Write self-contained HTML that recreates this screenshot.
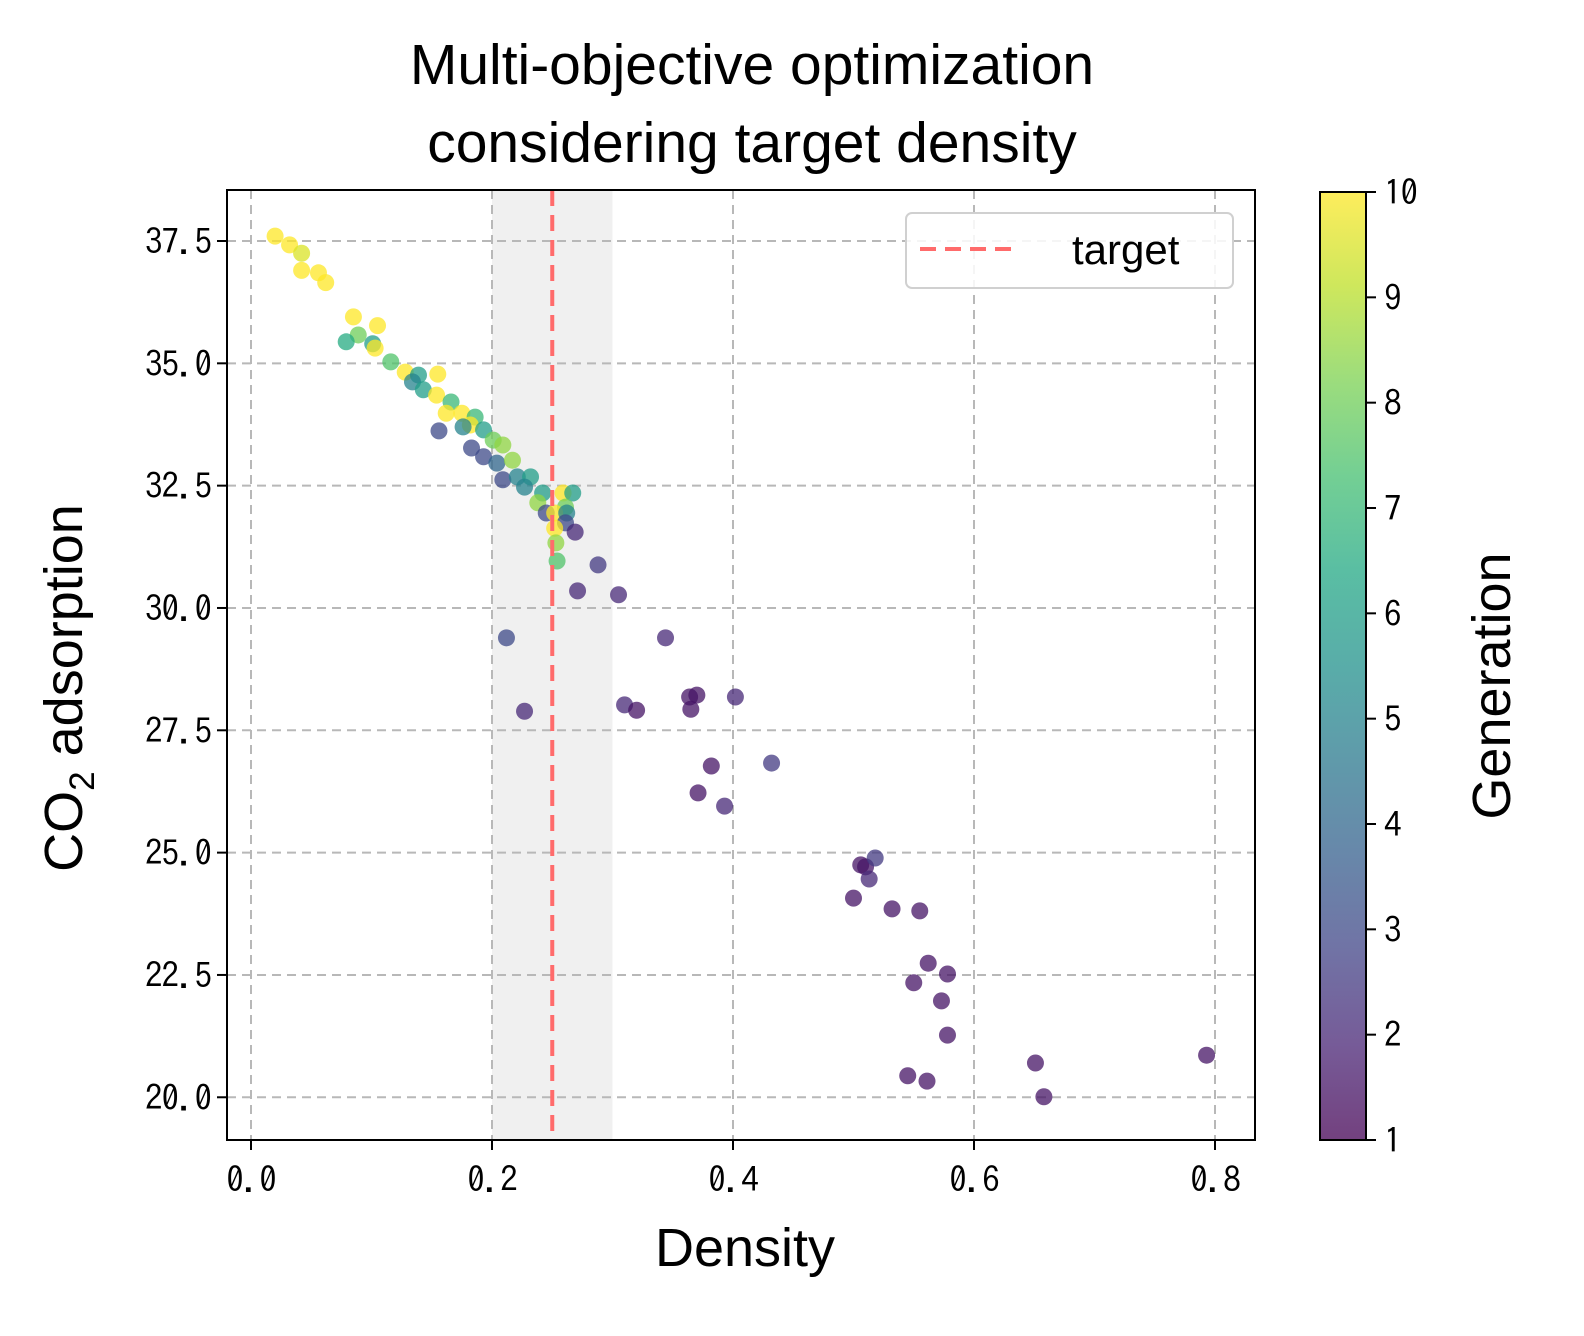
<!DOCTYPE html>
<html><head><meta charset="utf-8"><style>
html,body{margin:0;padding:0;background:#fff;overflow:hidden;width:1584px;height:1336px}
svg{display:block}
.tk{font-family:"IPAGothic","Liberation Sans",sans-serif;font-size:35px;fill:#000;letter-spacing:-1px}
.lb{font-family:"Liberation Sans",sans-serif;fill:#000}
</style></head><body>
<svg id="chart" width="1584" height="1336" xmlns="http://www.w3.org/2000/svg">
<defs>
<linearGradient id="vir" x1="0" y1="1" x2="0" y2="0"></linearGradient>
</defs>
<rect width="1584" height="1336" fill="#fff"/>
<text class="lb" x="752" y="84" font-size="57" text-anchor="middle">Multi-objective optimization</text>
<text class="lb" x="752" y="162" font-size="57" text-anchor="middle">considering target density</text>
<g id="plot"></g>
<g id="cbar"></g>
</svg>
<script>
const densities=[0.020,0.032,0.042,0.042,0.056,0.062,0.085,0.105,0.089,0.079,0.101,0.103,0.116,0.128,0.139,0.134,0.143,0.155,0.154,0.166,0.162,0.175,0.186,0.182,0.156,0.176,0.193,0.183,0.193,0.201,0.209,0.204,0.217,0.209,0.221,0.232,0.227,0.242,0.238,0.245,0.259,0.267,0.261,0.252,0.262,0.261,0.269,0.252,0.253,0.254,0.288,0.271,0.305,0.212,0.344,0.227,0.310,0.320,0.364,0.370,0.365,0.402,0.382,0.432,0.371,0.393,0.506,0.510,0.518,0.513,0.500,0.532,0.555,0.562,0.578,0.550,0.573,0.578,0.651,0.793,0.545,0.561,0.658];
const adsorption=[37.6,37.42,37.25,36.9,36.85,36.65,35.95,35.77,35.58,35.44,35.4,35.31,35.03,34.82,34.76,34.62,34.46,34.78,34.35,34.21,33.98,33.98,33.9,33.74,33.62,33.7,33.64,33.27,33.09,33.43,33.33,32.96,33.02,32.62,32.68,32.68,32.47,32.35,32.15,31.94,32.35,32.35,32.06,31.94,31.94,31.74,31.55,31.63,31.33,30.96,30.88,30.35,30.27,29.39,29.39,27.89,28.02,27.91,28.18,28.22,27.93,28.18,26.77,26.83,26.22,25.95,24.75,24.71,24.89,24.46,24.07,23.85,23.81,22.74,22.52,22.34,21.97,21.27,20.70,20.86,20.44,20.33,20.01];
const generations=[10,10,9.5,10,10,10,10,10,8,6.5,6,10,7.5,10,6,5,6,10,10,7,10,10,7,10,3,5,6,3,3,8,8.5,4,8.5,3,5,6,5,6,8.5,3,10,6,8,10,5,3,2,10,8.5,7.5,2.5,2,2,3,2,2,2,1.5,1.5,1.5,1.5,2,1.5,2.5,1.5,2,1.5,1.5,2.5,2,1.5,1.5,1.5,1.5,1.5,1.5,1.5,1.5,1.5,1.5,1.5,1.5,1.5];
const xTicks=[0.0,0.2,0.4,0.6,0.8];
const xTickLabels=["0.0","0.2","0.4","0.6","0.8"];
const yTicks=[20,22.5,25,27.5,30,32.5,35,37.5];
const yTickLabels=["20.0","22.5","25.0","27.5","30.0","32.5","35.0","37.5"];
const cTicks=[1,2,3,4,5,6,7,8,9,10];
const targetDensity=0.25, bandLo=0.2, bandHi=0.3;

const NS="http://www.w3.org/2000/svg";
const L=227,R=1255,T=190,B=1140;
const X=v=>251+(v-0)*1205;
const Y=v=>241+(37.5-v)*48.93;
const vir=["#440154","#482475","#414487","#355f8d","#2a788e","#21918c","#22a884","#44bf70","#7ad151","#bddf26","#fde725"];
function hex(h){return [1,3,5].map(i=>parseInt(h.substr(i,2),16));}
function color(g){let t=(g-1)/9;t=Math.max(0,Math.min(1,t));const f=t*10,i=Math.min(9,Math.floor(f)),r=f-i;const a=hex(vir[i]),b=hex(vir[i+1]);return "rgb("+a.map((v,k)=>Math.round(v+(b[k]-v)*r)).join(",")+")";}
function mk(tag,at,par){const e=document.createElementNS(NS,tag);for(const k in at)e.setAttribute(k,at[k]);par.appendChild(e);return e;}
const grad=document.getElementById('vir');
vir.forEach((c,i)=>mk('stop',{offset:(i*10)+'%','stop-color':c},grad));
const p=document.getElementById('plot');
let e;
e=mk('rect',{x:X(bandLo),y:T,width:X(bandHi)-X(bandLo),height:B-T,fill:'#f0f0f0'},p);


xTicks.forEach((v,i)=>{
 e=mk('line',{x1:X(v),x2:X(v),y1:T,y2:B,stroke:'#b8b8b8','stroke-width':2,'stroke-dasharray':'9,6'},p);
 
 
 mk('line',{x1:X(v),x2:X(v),y1:B,y2:B+10,stroke:'#000','stroke-width':2},p);
 e=mk('text',{x:X(v),y:B+52,'text-anchor':'middle',class:'tk'},p);e.textContent=xTickLabels[i];
 
 
});
yTicks.forEach((v,i)=>{
 e=mk('line',{x1:L,x2:R,y1:Y(v),y2:Y(v),stroke:'#b8b8b8','stroke-width':2,'stroke-dasharray':'9,6'},p);
 
 
 mk('line',{x1:L-10,x2:L,y1:Y(v),y2:Y(v),stroke:'#000','stroke-width':2},p);
 e=mk('text',{x:L-16,y:Y(v)+13,'text-anchor':'end',class:'tk'},p);e.textContent=yTickLabels[i];
 
 
});
densities.forEach((d,i)=>{
 e=mk('circle',{cx:X(d),cy:Y(adsorption[i]),r:8.5,fill:color(generations[i]),'fill-opacity':0.75},p);
 
 
});
e=mk('line',{x1:X(targetDensity),x2:X(targetDensity),y1:T,y2:B,stroke:'#ff6b6b','stroke-width':4,'stroke-dasharray':'16,9'},p);


e=mk('rect',{x:L,y:T,width:R-L,height:B-T,fill:'none',stroke:'#000','stroke-width':2},p);


const lg=mk('g',{},p);


mk('rect',{x:906,y:213,width:327,height:75,rx:6,fill:'#fff','fill-opacity':0.85,stroke:'#d0d0d0','stroke-width':2},lg);
mk('line',{x1:920,x2:1012,y1:249,y2:249,stroke:'#ff6b6b','stroke-width':4,'stroke-dasharray':'16,9'},lg);
e=mk('text',{x:1072,y:264,'font-size':42,class:'lb'},lg);e.textContent='target';


e=mk('text',{x:745,y:1266,'font-size':54,'text-anchor':'middle',class:'lb'},p);e.textContent='Density';


e=mk('text',{transform:'translate(82,688) rotate(-90)','font-size':54,'text-anchor':'middle',class:'lb'},p);
e.innerHTML='CO<tspan font-size="35" dy="12">2</tspan><tspan dy="-12"> adsorption</tspan>';


const cb=document.getElementById('cbar');
const CT=192,CB=1140,CL=1320,CR=1366;
const CY=v=>CB-(v-1)/9*(CB-CT);
e=mk('rect',{x:CL,y:CT,width:CR-CL,height:CB-CT,fill:'url(#vir)','fill-opacity':0.75,stroke:'#000','stroke-width':2},cb);


cTicks.forEach(v=>{
 mk('line',{x1:CR,x2:CR+10,y1:CY(v),y2:CY(v),stroke:'#000','stroke-width':2},cb);
 e=mk('text',{x:CR+18,y:CY(v)+13,class:'tk'},cb);e.textContent=String(v);
 
 
});
e=mk('text',{transform:'translate(1510,686) rotate(-90)','font-size':54,'text-anchor':'middle',class:'lb'},cb);e.textContent='Generation';


</script>
</body></html>
